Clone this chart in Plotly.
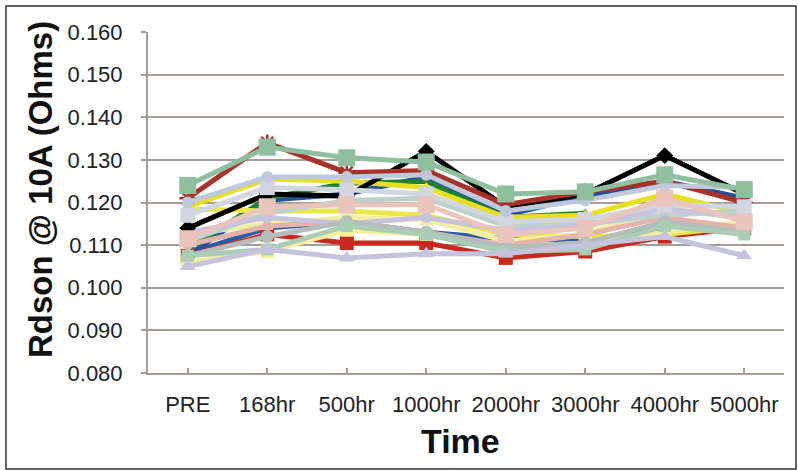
import plotly.graph_objects as go

categories = ["PRE", "168hr", "500hr", "1000hr", "2000hr", "3000hr", "4000hr", "5000hr"]

# series values (Ohms)
s_blue_b     = [0.108, 0.114, 0.1155, 0.113, 0.1115, 0.111, 0.114, 0.113]
s_blue_a     = [0.1075, 0.1205, 0.122, 0.126, 0.117, 0.1215, 0.125, 0.121]
s_green      = [0.109, 0.121, 0.1245, 0.125, 0.1165, 0.1175, None, None]
s_red        = [0.1075, 0.1125, 0.1105, 0.1105, 0.107, 0.1085, 0.112, 0.114]
s_yellow_b   = [0.1185, 0.118, 0.118, 0.117, 0.1125, 0.112, 0.1125, 0.1145]
s_ltyellow   = [0.1125, 0.115, 0.1165, 0.116, 0.111, 0.1125, 0.119, 0.116]
s_ltyellow_b = [0.106, 0.1085, 0.1135, 0.1125, 0.1095, 0.1105, 0.113, 0.1155]
s_yellow_a   = [0.119, 0.1255, 0.125, 0.1235, 0.1165, 0.117, 0.122, 0.1175]
s_salmon     = [0.110, 0.1145, 0.1155, 0.113, 0.110, 0.1125, 0.1165, 0.114]
s_aqua       = [0.111, 0.1175, 0.1205, 0.121, 0.1145, 0.115, 0.117, 0.118]
s_lavender_b = [0.113, 0.1165, 0.115, 0.1165, 0.1135, 0.1145, 0.1185, 0.1165]
s_gray       = [0.1075, 0.112, 0.1155, 0.113, 0.1095, 0.1105, 0.1155, 0.113]
s_sage_lt    = [0.1075, 0.109, 0.1145, 0.1125, 0.1085, 0.109, 0.1145, 0.1125]
s_black      = [0.114, 0.122, 0.1215, 0.132, 0.119, 0.122, 0.131, 0.122]
s_darkred    = [0.121, 0.134, 0.127, 0.1275, 0.1195, 0.1225, 0.125, 0.120]
s_ltgray     = [0.117, 0.1235, 0.123, 0.122, 0.1155, 0.116, 0.1195, 0.119]
s_steel      = [0.120, 0.126, 0.126, 0.1265, 0.118, 0.1205, 0.124, 0.1235]
s_lavender   = [0.105, 0.109, 0.107, 0.108, 0.108, 0.110, 0.112, 0.1075]
s_pink       = [0.1115, 0.119, 0.1195, 0.1195, 0.1125, 0.114, 0.121, 0.1155]
s_sage       = [0.124, 0.133, 0.1305, 0.1295, 0.122, 0.1225, 0.1265, 0.123]

series = [
    (s_blue_b, "#2c5ea6", "circle", 9),
    (s_blue_a, "#23509c", "diamond", 9),
    (s_green, "#1f8035", "triangle-up", 9),
    (s_red, "#c8291e", "square", 14),
    (s_yellow_b, "#ebe64a", "triangle-up", 10),
    (s_ltyellow, "#f1eea6", "square", 12),
    (s_ltyellow_b, "#f4ef9c", "square", 13),
    (s_yellow_a, "#e6e020", "triangle-up", 11),
    (s_salmon, "#e4b4aa", "circle", 10),
    (s_aqua, "#bcd0cc", "diamond", 11),
    (s_lavender_b, "#c8c2dc", "circle", 11),
    (s_gray, "#b4bcbc", "circle", 13),
    (s_sage_lt, "#aacdb5", "square", 12),
    (s_black, "#000000", "diamond", 13),
    (s_darkred, "#a8322a", "asterisk-open", 14),
    (s_ltgray, "#d2d6e0", "square", 15),
    (s_steel, "#c0c8dc", "circle", 12),
    (s_lavender, "#c4c4de", "triangle-up", 14),
    (s_pink, "#e8c4bc", "square", 17),
    (s_sage, "#8fbf9e", "square", 17),
]

fig = go.Figure()
for vals, col, sym, sz in series:
    marker = dict(symbol=sym, size=sz, color=col)
    if sym == "asterisk-open":
        marker["line"] = dict(color=col, width=2.5)
    fig.add_trace(go.Scatter(
        x=categories, y=vals, mode="lines+markers",
        line=dict(color=col, width=5), marker=marker,
        connectgaps=False, showlegend=False, hoverinfo="skip"))

axcol = "#a59c98"
fig.update_layout(
    width=798, height=471,
    margin=dict(l=148, r=14, t=32, b=98),
    paper_bgcolor="white", plot_bgcolor="white",
    font=dict(family="Liberation Sans, Arial, sans-serif", color="#222222"),
    xaxis=dict(type="category", range=[-0.5, 7.5], showgrid=False,
               showline=True, linecolor=axcol, linewidth=2,
               ticks="inside", ticklen=5, tickcolor=axcol, tickwidth=1.5,
               tickfont=dict(size=22, color="#222222"), ticklabelstandoff=11),
    yaxis=dict(range=[0.080, 0.160], dtick=0.01, tickformat=".3f",
               showgrid=True, gridcolor=axcol, gridwidth=1.5,
               showline=True, linecolor=axcol, linewidth=2,
               ticks="outside", ticklen=5, tickcolor=axcol, tickwidth=1.5,
               tickfont=dict(size=22, color="#222222"), ticklabelstandoff=14,
               zeroline=False),
    annotations=[
        dict(text="<b>Rdson @ 10A (Ohms)</b>", textangle=-90, xref="paper", yref="paper",
             x=-0.1682, y=0.5367, xanchor="center", yanchor="middle", showarrow=False,
             font=dict(size=33, color="#111111")),
        dict(text="<b>Time</b>", xref="paper", yref="paper",
             x=0.4906, y=-0.1994, xanchor="center", yanchor="middle", showarrow=False,
             font=dict(size=34, color="#111111")),
    ],
    shapes=[dict(type="rect", xref="paper", yref="paper",
                 x0=-0.2233, x1=1.0189, y0=-0.2815, y1=1.0762,
                 line=dict(color="#333333", width=1.5), fillcolor="rgba(0,0,0,0)",
                 layer="below")],
)

fig.write_html("out.html", config={"displayModeBar": False},
               post_script="document.body.style.margin='0';document.body.style.padding='0';")
